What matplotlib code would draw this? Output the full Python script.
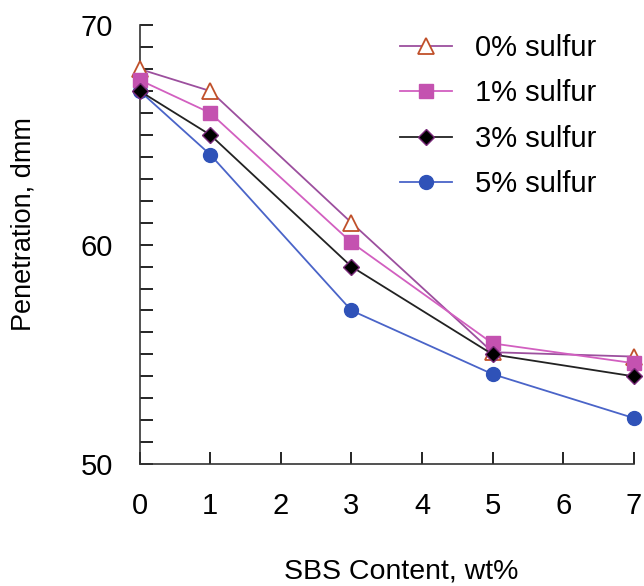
import matplotlib.pyplot as plt
from matplotlib.ticker import MultipleLocator

plt.rcParams['font.family'] = ['Liberation Sans', 'DejaVu Sans']

sbs = [0, 1, 3, 5, 7]
labels = ["0% sulfur", "1% sulfur", "3% sulfur", "5% sulfur"]
pen_0 = [68.0, 67.0, 61.0, 55.1, 54.9]
pen_1 = [67.5, 66.0, 60.1, 55.5, 54.6]
pen_3 = [67.0, 65.0, 59.0, 55.0, 54.0]
pen_5 = [67.0, 64.1, 57.0, 54.1, 52.1]

fig = plt.figure(figsize=(6.44, 5.86), dpi=100)
ax = fig.add_axes([0.217, 0.208, 0.767, 0.749])

ax.plot(sbs, pen_0, color="#9c4f9e", lw=1.3, marker="^", ms=11,
        mfc="white", mec="#c0502a", mew=1.3, label=labels[0], clip_on=False, zorder=3)
ax.plot(sbs, pen_1, color="#d25fc0", lw=1.3, marker="s", ms=10,
        mfc="#c452b0", mec="#c452b0", label=labels[1], clip_on=False, zorder=3)
ax.plot(sbs, pen_3, color="#222222", lw=1.3, marker="D", ms=8,
        mfc="black", mec="#7a2a7a", label=labels[2], clip_on=False, zorder=4)
ax.plot(sbs, pen_5, color="#4a64c8", lw=1.3, marker="o", ms=10,
        mfc="#2f52b8", mec="#2f52b8", label=labels[3], clip_on=False, zorder=2)

ax.set_xlim(0, 7)
ax.set_ylim(50, 70)
ax.xaxis.set_major_locator(MultipleLocator(1))
ax.yaxis.set_major_locator(MultipleLocator(10))
ax.yaxis.set_minor_locator(MultipleLocator(1))
ax.tick_params(axis="both", which="both", direction="in", width=1.2, length=9, labelsize=21)
ax.tick_params(axis="x", pad=20)
ax.tick_params(axis="y", pad=19)
for s in ["top", "right"]:
    ax.spines[s].set_visible(False)
for s in ["left", "bottom"]:
    ax.spines[s].set_linewidth(1.2)
    ax.spines[s].set_color("#333333")

ax.set_xlabel("SBS Content, wt%", fontsize=20.5)
ax.xaxis.set_label_coords(0.53, -0.215)
ax.set_ylabel("Penetration, dmm", fontsize=19.5)
ax.yaxis.set_label_coords(-0.21, 0.547)

ax.legend(loc="upper left", bbox_to_anchor=(0.526, 0.98), frameon=False, fontsize=21,
          borderaxespad=0, borderpad=0, handlelength=1.8, labelspacing=0.6,
          handletextpad=0.8)

fig.savefig("out.png", dpi=100)
